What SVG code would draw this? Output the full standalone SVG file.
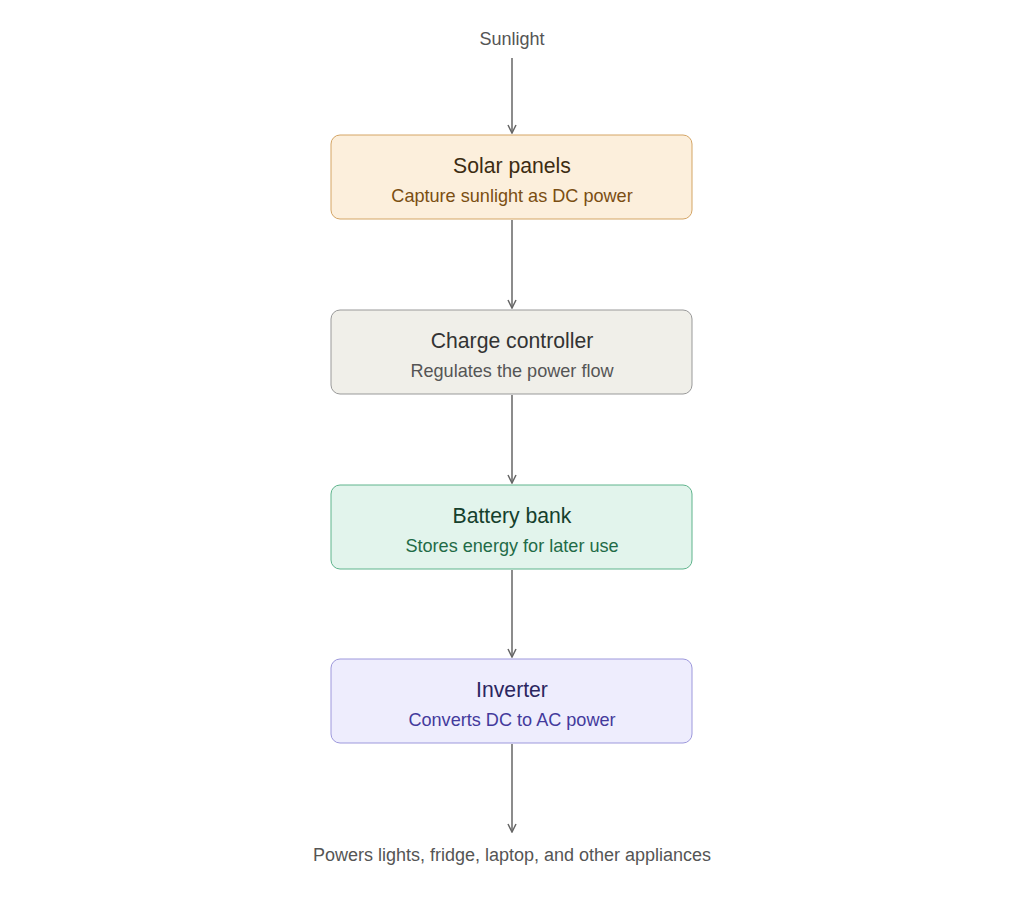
<svg xmlns="http://www.w3.org/2000/svg" width="1024" height="918" viewBox="0 0 1024 918">
<style>
text{font-family:"Liberation Sans",Arial,sans-serif;text-anchor:middle}
.t{font-size:21.2px}.s{font-size:18.1px}.l{font-size:18px;fill:#555}
.e{stroke:#666;stroke-width:1.5;fill:none}
</style>
<defs><marker id="a" viewBox="0 0 10 10" refX="9" refY="5" markerWidth="10" markerHeight="10" markerUnits="userSpaceOnUse" orient="auto"><path d="M1,1 L9,5 L1,9" fill="none" stroke="#666" stroke-width="1.5"/></marker></defs>
<rect width="1024" height="918" fill="#fff"/>
<text class="l" x="512" y="45">Sunlight</text>
<text class="l" x="512" y="861">Powers lights, fridge, laptop, and other appliances</text>
<g id="connectors">
<line class="e" x1="512" y1="58" x2="512" y2="133" marker-end="url(#a)"/>
<line class="e" x1="512" y1="220" x2="512" y2="308" marker-end="url(#a)"/>
<line class="e" x1="512" y1="395" x2="512" y2="483" marker-end="url(#a)"/>
<line class="e" x1="512" y1="570" x2="512" y2="657" marker-end="url(#a)"/>
<line class="e" x1="512" y1="744" x2="512" y2="832" marker-end="url(#a)"/>
</g>
<g id="solar"><rect x="331" y="135" width="361" height="84" rx="9" fill="#fcefdc" stroke="#d4a565"/>
<text class="t" x="512" y="173" fill="#3d2c12">Solar panels</text><text class="s" x="512" y="202" fill="#7a4e12">Capture sunlight as DC power</text></g>
<g id="charge"><rect x="331" y="310" width="361" height="84" rx="9" fill="#f0efe9" stroke="#999"/>
<text class="t" x="512" y="348" fill="#333">Charge controller</text><text class="s" x="512" y="377" fill="#555">Regulates the power flow</text></g>
<g id="battery"><rect x="331" y="485" width="361" height="84" rx="9" fill="#e2f4ec" stroke="#5fb48c"/>
<text class="t" x="512" y="523" fill="#15402c">Battery bank</text><text class="s" x="512" y="552" fill="#1f6b47">Stores energy for later use</text></g>
<g id="inverter"><rect x="331" y="659" width="361" height="84" rx="9" fill="#eeedfd" stroke="#9d98dc"/>
<text class="t" x="512" y="697" fill="#2b2660">Inverter</text><text class="s" x="512" y="726" fill="#433a9c">Converts DC to AC power</text></g>
</svg>
